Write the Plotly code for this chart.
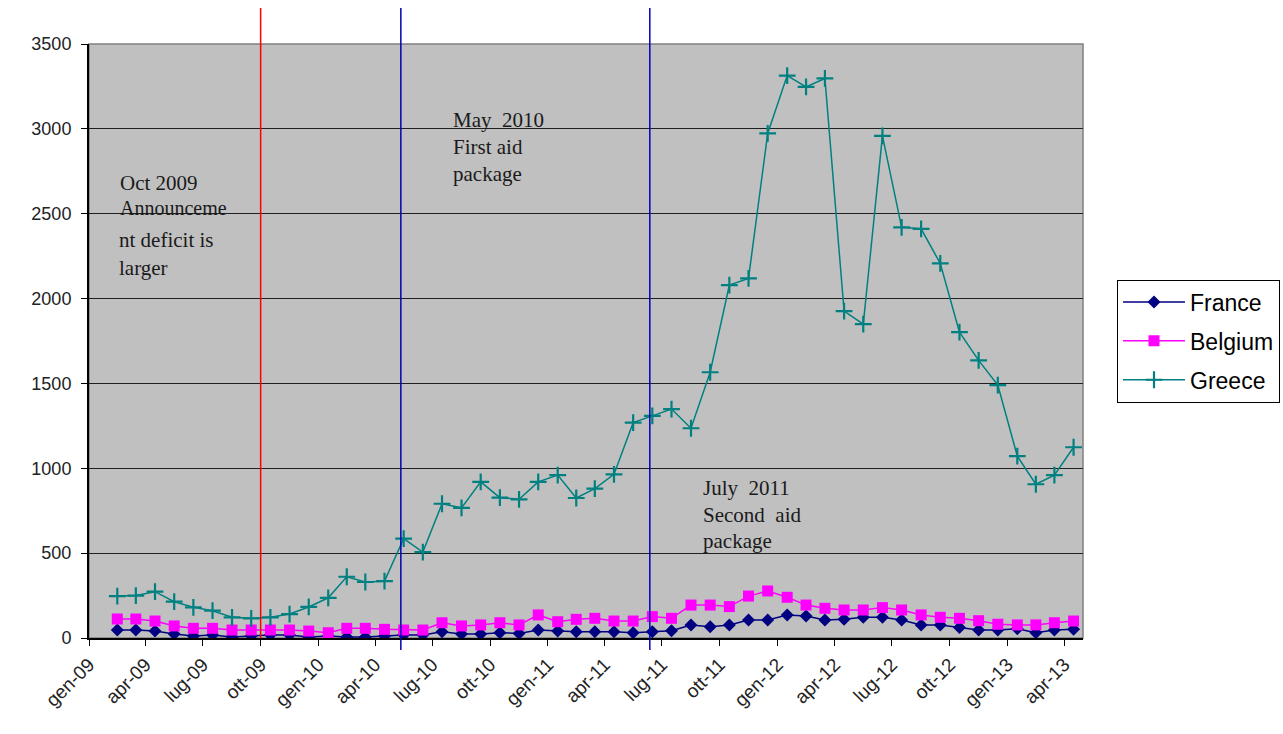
import pandas as pd
import plotly.graph_objects as go

# ---- data ----
months = pd.date_range("2009-02-01", periods=51, freq="MS")

france = [47, 47, 41, 24, 12, 18, 6, 12, 18, 18,
          6, 12, 6, 6, 12, 18, 18, 37, 24, 24,
          31, 27, 47, 41, 37, 37, 37, 31, 37, 43,
          77, 67, 77, 106, 106, 136, 130, 106, 110, 122,
          122, 106, 77, 77, 62, 47, 47, 55, 31, 47, 51]

belgium = [112, 112, 100, 71, 57, 57, 47, 47, 47, 47,
           41, 31, 57, 57, 51, 47, 47, 90, 71, 77,
           90, 77, 136, 96, 110, 116, 100, 100, 126, 116,
           194, 194, 185, 247, 277, 240, 194, 175, 165, 165,
           179, 165, 136, 122, 116, 102, 81, 77, 77, 90, 100]

greece = [247, 250, 273, 214, 181, 161, 122, 116, 122, 141,
          183, 237, 361, 330, 335, 586, 506, 791, 767, 920,
          827, 817, 920, 960, 825, 880, 964, 1269, 1309, 1349,
          1236, 1566, 2079, 2119, 2973, 3314, 3247, 3297, 1926, 1849,
          2959, 2420, 2411, 2207, 1802, 1636, 1490, 1072, 906, 960, 1124]

tick_dates = ["2009-01-01", "2009-04-01", "2009-07-01", "2009-10-01",
              "2010-01-01", "2010-04-01", "2010-07-01", "2010-10-01",
              "2011-01-01", "2011-04-01", "2011-07-01", "2011-10-01",
              "2012-01-01", "2012-04-01", "2012-07-01", "2012-10-01",
              "2013-01-01", "2013-04-01"]
tick_labels = ["gen-09", "apr-09", "lug-09", "ott-09",
               "gen-10", "apr-10", "lug-10", "ott-10",
               "gen-11", "apr-11", "lug-11", "ott-11",
               "gen-12", "apr-12", "lug-12", "ott-12",
               "gen-13", "apr-13"]

event_red = "2009-10-01"
events_blue = ["2010-05-12", "2011-06-12"]

# ---- layout geometry ----
W, H = 1283, 734
L, R, T, B = 89, 1083, 44, 638


def px(x):
    return (x - L) / (R - L)


def py(y):
    return (B - y) / (B - T)


fig = go.Figure()

fig.add_trace(go.Scatter(
    x=months, y=france, name="France", mode="lines+markers",
    xperiod="M1", xperiodalignment="middle",
    line=dict(color="#000080", width=1.5),
    marker=dict(symbol="diamond", size=10, color="#000080"),
    legendgroup="a"))
fig.add_trace(go.Scatter(
    x=months, y=belgium, name="Belgium", mode="lines+markers",
    xperiod="M1", xperiodalignment="middle",
    line=dict(color="#FF00FF", width=1.5),
    marker=dict(symbol="square", size=11, color="#FF00FF"),
    legendgroup="b"))
fig.add_trace(go.Scatter(
    x=months, y=greece, name="Greece", mode="lines+markers",
    xperiod="M1", xperiodalignment="middle",
    line=dict(color="#008080", width=1.5),
    marker=dict(symbol="cross-thin", size=12, color="#008080",
                line=dict(color="#008080", width=2.2)),
    legendgroup="c"))

shapes = [
    dict(type="rect", xref="paper", yref="paper", x0=0, x1=1, y0=0, y1=1,
         line=dict(color="#808080", width=1.5), layer="below"),
    dict(type="line", xref="x", yref="paper", x0=event_red, x1=event_red,
         y0=0, y1=py(8), line=dict(color="#FF0000", width=1.5)),
]
for d in events_blue:
    shapes.append(dict(type="line", xref="x", yref="paper", x0=d, x1=d,
                       y0=py(650), y1=py(8),
                       line=dict(color="#0000B8", width=1.5)))

serif = "Liberation Serif"
ann_lines = [
    ("Oct 2009", 118, 183, 21),
    ("Announceme", 118, 208, 20),
    ("nt deficit is", 117, 240, 21),
    ("larger", 117, 268, 21),
    ("May  2010", 451, 120, 21),
    ("First aid", 451, 147, 21),
    ("package", 451, 174, 21),
    ("July  2011", 701, 488, 21),
    ("Second  aid", 701, 515, 21),
    ("package", 701, 541, 21),
]
annotations = [
    dict(text=t, xref="paper", yref="paper", x=px(x), y=py(y),
         xanchor="left", yanchor="middle", showarrow=False,
         font=dict(family=serif, size=s, color="#1a1a1a"))
    for t, x, y, s in ann_lines
]

fig.update_layout(
    width=W, height=H,
    margin=dict(l=L, r=W - R, t=T, b=H - B, pad=0, autoexpand=False),
    paper_bgcolor="white",
    plot_bgcolor="#C0C0C0",
    font=dict(family="Liberation Sans", size=18, color="#222222"),
    shapes=shapes,
    annotations=annotations,
    showlegend=True,
    legend=dict(x=px(1117), y=0.5, xanchor="left", yanchor="middle",
                bgcolor="white", bordercolor="black", borderwidth=1,
                font=dict(family="Liberation Sans", size=23, color="black"),
                tracegroupgap=6, itemwidth=62),
)

fig.update_xaxes(
    type="date",
    range=["2009-01-01", "2013-05-01"],
    tickmode="array", tickvals=tick_dates, ticktext=tick_labels,
    tickangle=-45, ticks="outside", ticklen=6, tickcolor="black",
    showgrid=False, showline=True, linecolor="black", linewidth=2,
    tickfont=dict(family="Liberation Sans", size=19, color="#222222"),
    zeroline=False,
)
fig.update_yaxes(
    range=[0, 3500], dtick=500, tick0=0,
    ticks="outside", ticklen=6, tickcolor="black",
    showgrid=True, gridcolor="#202020", gridwidth=1,
    showline=True, linecolor="black", linewidth=2,
    tickfont=dict(family="Liberation Sans", size=18, color="#222222"),
    ticklabelstandoff=6,
    zeroline=False,
)

fig.write_html("out.html")
